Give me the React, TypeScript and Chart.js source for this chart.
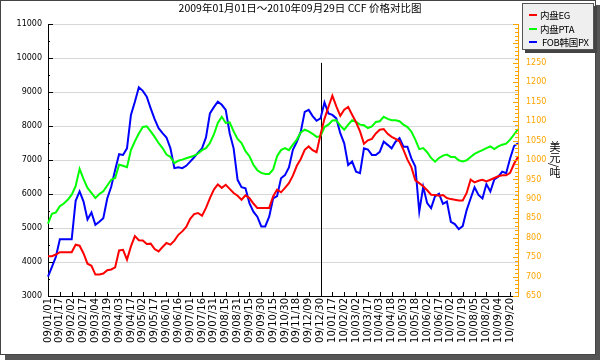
import React, { useEffect, useRef } from "react";
import { Chart, registerables } from "chart.js";

Chart.register(...registerables);

const titleText = "2009年01月01日～2010年09月29日 CCF 价格对比图";
const unitText = "美元/吨";

const tickLabels = [
  "09/01/01", "09/01/17", "09/02/02", "09/02/17", "09/03/04", "09/03/19", "09/04/03", "09/04/17",
  "09/05/02", "09/05/17", "09/06/01", "09/06/16", "09/07/01", "09/07/16", "09/07/31", "09/08/15",
  "09/08/31", "09/09/15", "09/09/30", "09/10/15", "09/10/30", "09/11/18", "09/12/09", "09/12/30",
  "10/01/17", "10/02/02", "10/03/02", "10/03/17", "10/04/03", "10/04/18", "10/05/03", "10/05/18",
  "10/06/02", "10/06/17", "10/07/02", "10/07/19", "10/08/05", "10/08/20", "10/09/04", "10/09/20",
];
const pointsPerLabel = 3;
const totalPoints = 120;
const dividerLabel = "09/12/30";

const seriesNames = ["内盘EG", "内盘PTA", "FOB韩国PX"];
const seriesColors = ["#ff0000", "#00ff00", "#0000ff"];

const egValues = [
  4170, 4170, 4220, 4290, 4290, 4290, 4290, 4510, 4480, 4250,
  3950, 3890, 3630, 3630, 3660, 3760, 3780, 3840, 4340, 4360,
  4070, 4460, 4760, 4640, 4630, 4530, 4540, 4380, 4310, 4440,
  4560, 4510, 4630, 4800, 4900, 5030, 5270, 5410, 5440, 5360,
  5590, 5880, 6130, 6280, 6180, 6270, 6150, 6030, 5950, 5830,
  5960, 5880, 5720, 5590, 5590, 5590, 5590, 5930, 6130, 6050,
  6180, 6320, 6540, 6830, 7030, 7300, 7400, 7290, 7230, 7750,
  8210, 8560, 8890, 8580, 8300, 8480, 8560, 8330, 8110, 7840,
  7480, 7580, 7620, 7780, 7890, 7910, 7770, 7680, 7620, 7550,
  7300, 7010, 6790, 6400, 6320, 6230, 6110, 5980, 5970, 5950,
  5970, 5880, 5850, 5830, 5810, 5810, 6030, 6420, 6340, 6390,
  6420, 6370, 6420, 6470, 6520, 6550, 6550, 6620, 6890, 7090,
];

const ptaValues = [
  5130, 5420, 5460, 5640, 5720, 5830, 5980, 6230, 6740, 6440,
  6180, 6030, 5880, 6000, 6080, 6250, 6420, 6470, 6860, 6830,
  6790, 7290, 7550, 7780, 7970, 7990, 7840, 7680, 7500, 7350,
  7160, 7090, 6910, 6980, 7010, 7050, 7090, 7130, 7190, 7290,
  7350, 7500, 7750, 8090, 8270, 8090, 8110, 7840, 7620, 7500,
  7260, 7110, 6860, 6700, 6620, 6590, 6590, 6720, 7110, 7290,
  7350, 7290, 7450, 7600, 7810, 7890, 7840, 7770, 7680, 7700,
  7970, 8040, 8160, 8170, 8010, 7890, 8040, 8170, 8120, 8040,
  8020, 7940, 7990, 8120, 8140, 8270, 8210, 8170, 8170, 8140,
  8040, 7970, 7840, 7600, 7320, 7350, 7230, 7060, 6950, 7060,
  7130, 7160, 7090, 7090, 6990, 6960, 6990, 7090, 7180, 7240,
  7290, 7350, 7400, 7320, 7400, 7450, 7480, 7600, 7750, 7910,
];

const pxValues = [
  700, 725, 751, 796, 796, 796, 796, 895, 919, 893,
  847, 865, 833, 841, 850, 901, 931, 974, 1015, 1013,
  1030, 1116, 1150, 1187, 1178, 1163, 1133, 1105, 1082, 1069,
  1058, 1030, 979, 981, 979, 985, 996, 1007, 1019, 1030,
  1058, 1120, 1136, 1150, 1142, 1129, 1069, 1030, 949, 930,
  927, 889, 867, 854, 829, 829, 854, 901, 907, 953,
  961, 981, 1026, 1047, 1073, 1124, 1129, 1113, 1101, 1107,
  1148, 1120, 1116, 1107, 1069, 1043, 987, 996, 970, 966,
  1030, 1027, 1013, 1013, 1021, 1047, 1039, 1030, 1047, 1056,
  1034, 1034, 1004, 983, 867, 931, 889, 876, 907, 913,
  887, 893, 841, 835, 822, 830, 871, 901, 930, 910,
  901, 938, 919, 950, 957, 970, 966, 1004, 1036, 1043,
];

const leftMin = 3000, leftMax = 11000, leftStep = 1000, leftMinor = 500;
const rightMin = 650, rightMax = 1350, rightStep = 50, rightMinor = 10;
const dividerTopValue = 1250;

const categories: string[] = [];
for (let i = 0; i < totalPoints; i++) {
  const j = i / pointsPerLabel;
  categories.push(i % pointsPerLabel === 0 && j < tickLabels.length ? tickLabels[j] : "");
}

const orange = "#ffa500";

const decorPlugin = {
  id: "decor",
  beforeDatasetsDraw(chart: any) {
    const { ctx, chartArea, scales } = chart;
    const idx = categories.indexOf(dividerLabel);
    const x = Math.round(scales.x.getPixelForValue(idx)) + 0.5;
    const yTop = scales.y1.getPixelForValue(dividerTopValue);
    ctx.save();
    ctx.strokeStyle = "#000";
    ctx.lineWidth = 1;
    ctx.beginPath();
    ctx.moveTo(x, yTop);
    ctx.lineTo(x, chartArea.bottom);
    ctx.stroke();
    ctx.restore();
  },
  afterDraw(chart: any) {
    const { ctx, chartArea, scales } = chart;
    ctx.save();
    ctx.lineWidth = 1;
    ctx.strokeStyle = "#000";
    ctx.beginPath();
    for (let v = leftMin; v <= leftMax; v += leftMinor) {
      const y = Math.round(scales.y.getPixelForValue(v)) + 0.5;
      const len = v % leftStep === 0 ? 5 : 2;
      ctx.moveTo(chartArea.left, y);
      ctx.lineTo(chartArea.left + len, y);
    }
    categories.forEach((c, i) => {
      if (!c) return;
      const x = Math.round(scales.x.getPixelForValue(i)) + 0.5;
      ctx.moveTo(x, chartArea.bottom);
      ctx.lineTo(x, chartArea.bottom - 4);
    });
    ctx.stroke();
    ctx.strokeStyle = orange;
    ctx.beginPath();
    for (let v = rightMin; v <= rightMax; v += rightMinor) {
      const y = Math.round(scales.y1.getPixelForValue(v)) + 0.5;
      const len = v % rightStep === 0 ? 5 : 3;
      ctx.moveTo(chartArea.right, y);
      ctx.lineTo(chartArea.right - len, y);
    }
    ctx.stroke();
    ctx.restore();
  },
};

export default function App() {
  const ref = useRef<HTMLCanvasElement | null>(null);
  useEffect(() => {
    if (!ref.current) return;
    const valueSets = [egValues, ptaValues, pxValues];
    const axisIds = ["y", "y", "y1"];
    const chart = new Chart(ref.current, {
      type: "line",
      data: {
        labels: categories,
        datasets: seriesNames.map((name, k) => ({
          label: name,
          data: valueSets[k],
          borderColor: seriesColors[k],
          backgroundColor: seriesColors[k],
          borderWidth: 2,
          pointRadius: 0,
          tension: 0,
          fill: false,
          yAxisID: axisIds[k],
        })),
      },
      options: {
        animation: false,
        responsive: false,
        maintainAspectRatio: false,
        layout: { padding: { top: 24, left: 0, right: 0, bottom: 0 } },
        plugins: { legend: { display: false }, tooltip: { enabled: false }, title: { display: false } },
        scales: {
          x: {
            type: "category",
            grid: { display: false, drawTicks: false },
            border: { display: true, color: "#000", width: 1 },
            ticks: {
              autoSkip: false,
              maxRotation: 90,
              minRotation: 90,
              padding: 2,
              color: "#000",
              font: { family: "'DejaVu Sans', sans-serif", size: 10 },
              callback: (_v: any, i: number) => categories[i],
            },
            afterFit: (s: any) => { s.height = 64; },
          },
          y: {
            position: "left",
            min: leftMin,
            max: leftMax,
            grid: { color: "#d8d8d8", drawTicks: false, lineWidth: 1 },
            border: { display: true, color: "#000", width: 1 },
            ticks: {
              stepSize: leftStep,
              padding: 6,
              color: "#000",
              font: { family: "'DejaVu Sans', sans-serif", size: 8 },
              callback: (v: any) => String(v),
            },
            afterFit: (s: any) => { s.width = 48; },
          },
          y1: {
            position: "right",
            min: rightMin,
            max: rightMax,
            grid: { display: false, drawTicks: false },
            border: { display: true, color: orange, width: 1 },
            ticks: {
              stepSize: rightStep,
              padding: 8,
              color: orange,
              font: { family: "'DejaVu Sans', sans-serif", size: 8 },
              callback: (v: any) => String(v),
            },
            afterFit: (s: any) => { s.width = 82; },
          },
        },
      },
      plugins: [decorPlugin],
    });
    return () => chart.destroy();
  }, []);

  const cjk = "'Noto Sans CJK SC', 'DejaVu Sans', sans-serif";
  return (
    <div style={{ position: "fixed", left: 0, top: 0, width: 600, height: 360, fontFamily: cjk }}>
      <div
        style={{
          position: "absolute", left: 0, top: 0, width: 594, height: 353,
          border: "1px solid #444", background: "#fff", boxShadow: "5px 5px 0 #555",
        }}
      />
      <div
        style={{
          position: "absolute", left: 0, top: 1, width: 600, textAlign: "center",
          fontSize: 10.5, lineHeight: "14px", color: "#000",
        }}
      >
        {titleText}
      </div>
      <canvas ref={ref} width={600} height={360} style={{ position: "absolute", left: 0, top: 0, width: 600, height: 360 }} />
      <div
        style={{
          position: "absolute", left: 549, top: 141, writingMode: "vertical-rl",
          fontSize: 11, lineHeight: "12px", color: "#000",
        }}
      >
        {unitText}
      </div>
      <div
        style={{
          position: "absolute", left: 522, top: 3, width: 70, height: 45, overflow: "hidden",
          background: "#efefef", border: "1px solid #555", boxShadow: "3px 3px 0 #444",
        }}
      >
        {seriesNames.map((name, k) => (
          <div
            key={name}
            style={{
              position: "absolute", left: 6, top: 4 + k * 13.5, height: 14,
              display: "flex", alignItems: "center", fontSize: 9.5, letterSpacing: "-0.3px", whiteSpace: "nowrap",
            }}
          >
            <span style={{ display: "inline-block", width: 8, height: 2, background: seriesColors[k], marginRight: k === 2 ? 5 : 3 }} />
            {name}
          </div>
        ))}
      </div>
    </div>
  );
}
